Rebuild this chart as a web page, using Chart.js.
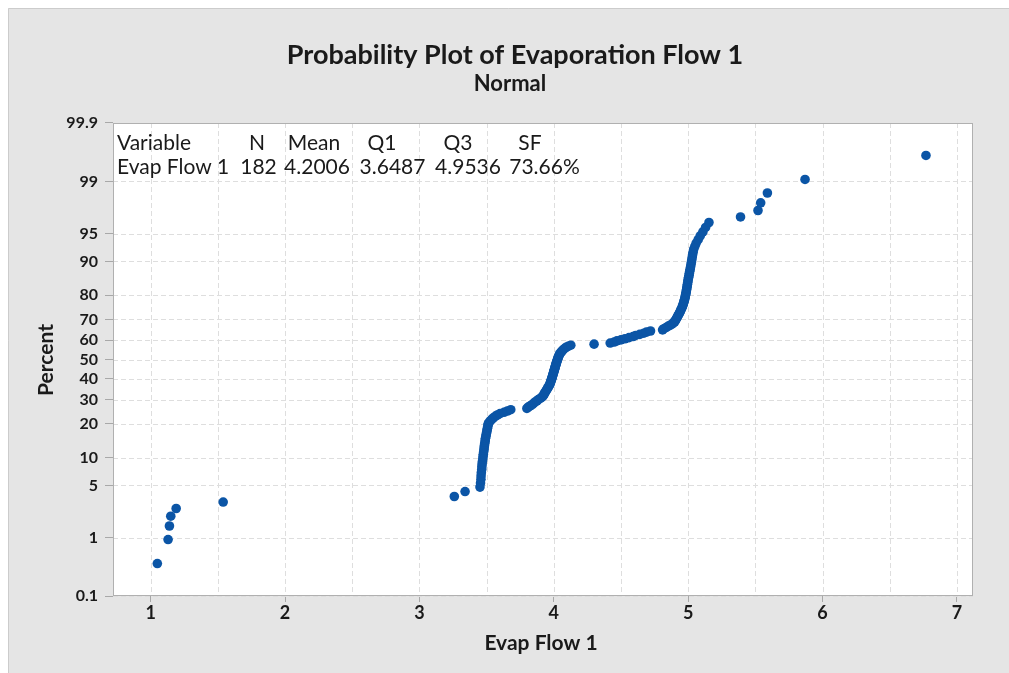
<!DOCTYPE html>
<html>
<head>
<meta charset="utf-8">
<script src="https://cdn.jsdelivr.net/npm/chart.js@4.4.1/dist/chart.umd.min.js"></script>
<style>
  html, body { margin: 0; padding: 0; background: #ffffff; }
  canvas { display: block; }
</style>
</head>
<body>
<canvas id="chart" width="1009" height="673"></canvas>
<script>
// Evaporation flow readings, sorted ascending (N = 182)
const evapFlow = [
  1.05, 1.13, 1.14, 1.15, 1.19, 1.54, 3.26, 3.34,
  3.451, 3.455, 3.458, 3.459, 3.461, 3.464, 3.465, 3.467, 3.469, 3.472,
  3.474, 3.476, 3.478, 3.481, 3.482, 3.484, 3.486, 3.489, 3.490, 3.492,
  3.495, 3.497, 3.500, 3.502, 3.504, 3.507, 3.509, 3.511, 3.513,
  3.52, 3.53, 3.54, 3.55, 3.565, 3.58, 3.60, 3.63, 3.655, 3.68,
  3.80, 3.81, 3.825, 3.84, 3.85, 3.86, 3.875, 3.885, 3.90, 3.91,
  3.92, 3.925, 3.93, 3.935, 3.94, 3.945, 3.95, 3.955, 3.96, 3.965,
  3.97, 3.973, 3.976, 3.978, 3.981, 3.984, 3.986, 3.989, 3.991, 3.994,
  3.996, 3.998, 4.001, 4.003, 4.005, 4.008, 4.010, 4.012, 4.014, 4.017,
  4.019, 4.021, 4.024, 4.027, 4.029, 4.032, 4.035, 4.038, 4.042, 4.046,
  4.052, 4.058, 4.065, 4.072, 4.082, 4.092, 4.107, 4.127,
  4.30,
  4.42, 4.45, 4.47, 4.50, 4.53, 4.56, 4.59, 4.61, 4.64, 4.67, 4.69, 4.72,
  4.81, 4.82, 4.835, 4.85, 4.865, 4.88, 4.89, 4.90, 4.905, 4.91,
  4.915, 4.92, 4.925, 4.93, 4.935, 4.94, 4.944, 4.948, 4.953, 4.957,
  4.961, 4.964, 4.967, 4.970, 4.973, 4.976, 4.978, 4.980, 4.983, 4.985,
  4.987, 4.989, 4.991, 4.993, 4.995, 4.997, 4.999, 5.001, 5.004, 5.007,
  5.009, 5.012, 5.015, 5.018, 5.021, 5.024, 5.027, 5.030, 5.033, 5.037,
  5.041, 5.05, 5.06, 5.075, 5.09, 5.11, 5.13, 5.155,
  5.39, 5.52, 5.54, 5.59, 5.87, 6.77
];

// Probability axis ticks (percent) and their labels
const percentTicks = [0.1, 1, 5, 10, 20, 30, 40, 50, 60, 70, 80, 90, 95, 99, 99.9];
const percentLabels = ['0.1', '1', '5', '10', '20', '30', '40', '50', '60', '70', '80', '90', '95', '99', '99.9'];

// Data axis ticks and grid positions
const xTicks = [1, 2, 3, 4, 5, 6, 7];
const xGrid = [1, 1.5, 2, 2.5, 3, 3.5, 4, 4.5, 5, 5.5, 6, 6.5, 7];

// Summary table
const statHeaders = ['Variable', 'N', 'Mean', 'Q1', 'Q3', 'SF'];
const statValues = ['Evap Flow 1', '182', '4.2006', '3.6487', '4.9536', '73.66%'];

const titleText = 'Probability Plot of Evaporation Flow 1';
const subtitleText = 'Normal';
const xTitle = 'Evap Flow 1';
const yTitle = 'Percent';

// Inverse standard normal CDF (Acklam's rational approximation)
function normInv(p) {
  const a = [-3.969683028665376e+01, 2.209460984245205e+02, -2.759285104469687e+02,
             1.383577518672690e+02, -3.066479806614716e+01, 2.506628277459239e+00];
  const b = [-5.447609879822406e+01, 1.615858368580409e+02, -1.556989798598866e+02,
             6.680131188771972e+01, -1.328068155288572e+01];
  const c = [-7.784894002430293e-03, -3.223964580411365e-01, -2.400758277161838e+00,
             -2.549732539343734e+00, 4.374664141464968e+00, 2.938163982698783e+00];
  const d = [7.784695709041462e-03, 3.224671290700398e-01, 2.445134137142996e+00,
             3.754408661907416e+00];
  const pl = 0.02425, ph = 1 - pl;
  let q, r;
  if (p < pl) {
    q = Math.sqrt(-2 * Math.log(p));
    return (((((c[0]*q+c[1])*q+c[2])*q+c[3])*q+c[4])*q+c[5]) /
           ((((d[0]*q+d[1])*q+d[2])*q+d[3])*q+1);
  }
  if (p <= ph) {
    q = p - 0.5; r = q * q;
    return (((((a[0]*r+a[1])*r+a[2])*r+a[3])*r+a[4])*r+a[5])*q /
           (((((b[0]*r+b[1])*r+b[2])*r+b[3])*r+b[4])*r+1);
  }
  q = Math.sqrt(-2 * Math.log(1 - p));
  return -(((((c[0]*q+c[1])*q+c[2])*q+c[3])*q+c[4])*q+c[5]) /
          ((((d[0]*q+d[1])*q+d[2])*q+d[3])*q+1);
}

// Median-rank plotting positions: (i - 0.3) / (n + 0.4)
const n = evapFlow.length;
const points = evapFlow.map((v, i) => ({ x: v, y: normInv((i + 1 - 0.3) / (n + 0.4)) }));

const zTicks = percentTicks.map(p => normInv(p / 100));
const zMin = normInv(0.001), zMax = normInv(0.999);

const FONT = 'Lato, "Open Sans", sans-serif';
const TEXT = '#1a1a1a';

const decor = {
  id: 'decor',
  beforeDraw(chart) {
    const { ctx, chartArea: a, width, height } = chart;
    ctx.save();
    ctx.fillStyle = '#ffffff';
    ctx.fillRect(0, 0, width, height);
    ctx.fillStyle = '#e5e5e5';
    ctx.fillRect(8, 8, width - 8, height - 8);
    ctx.strokeStyle = '#cccccc';
    ctx.lineWidth = 1;
    ctx.beginPath();
    ctx.moveTo(8.5, height); ctx.lineTo(8.5, 8.5); ctx.lineTo(width, 8.5);
    ctx.stroke();
    ctx.fillStyle = '#ffffff';
    ctx.fillRect(a.left, a.top, a.right - a.left, a.bottom - a.top);
    ctx.restore();
  },
  beforeDatasetsDraw(chart) {
    const { ctx, chartArea: a, scales } = chart;
    ctx.save();
    ctx.strokeStyle = '#dedede';
    ctx.lineWidth = 1;
    ctx.setLineDash([5, 3]);
    xGrid.forEach(v => {
      const px = Math.round(scales.x.getPixelForValue(v)) + 0.5;
      ctx.beginPath(); ctx.moveTo(px, a.top); ctx.lineTo(px, a.bottom); ctx.stroke();
    });
    zTicks.forEach(z => {
      const py = Math.round(scales.y.getPixelForValue(z)) + 0.5;
      ctx.beginPath(); ctx.moveTo(a.left, py); ctx.lineTo(a.right, py); ctx.stroke();
    });
    ctx.setLineDash([]);

    // summary table
    ctx.fillStyle = TEXT;
    ctx.font = '21px ' + FONT;
    ctx.textBaseline = 'alphabetic';
    const cols = [null, 257, 314, 382, 458, 530];
    const vcols = [null, 258.5, 317, 392.5, 468, 544.5];
    ctx.textAlign = 'left';
    ctx.fillText(statHeaders[0], 117, 150);
    ctx.fillText(statValues[0], 117, 174);
    ctx.textAlign = 'center';
    for (let i = 1; i < statHeaders.length; i++) {
      ctx.fillText(statHeaders[i], cols[i], 150);
      ctx.fillText(statValues[i], vcols[i], 174);
    }
    ctx.restore();
  },
  afterDatasetsDraw(chart) {
    const { ctx, chartArea: a } = chart;
    ctx.save();
    ctx.strokeStyle = '#b0b0b0';
    ctx.lineWidth = 1;
    ctx.strokeRect(a.left + 0.5, a.top + 0.5, a.right - a.left - 1, a.bottom - a.top - 1);

    ctx.fillStyle = TEXT;
    ctx.textAlign = 'center';
    ctx.textBaseline = 'alphabetic';
    ctx.font = 'bold 27px ' + FONT;
    ctx.fillText(titleText, 515, 64);
    ctx.font = 'bold 22px ' + FONT;
    ctx.fillText(subtitleText, 510, 91);

    ctx.font = 'bold 21px ' + FONT;
    ctx.textBaseline = 'middle';
    ctx.fillText(xTitle, 541, 643);
    ctx.translate(46, 360);
    ctx.rotate(-Math.PI / 2);
    ctx.fillText(yTitle, 0, 0);
    ctx.restore();
  }
};

new Chart(document.getElementById('chart'), {
  type: 'scatter',
  data: {
    datasets: [{
      data: points,
      backgroundColor: '#0b55a6',
      borderColor: '#0b55a6',
      borderWidth: 0,
      pointRadius: 4.8,
      pointHoverRadius: 4.8
    }]
  },
  options: {
    responsive: false,
    animation: false,
    devicePixelRatio: 1,
    layout: { padding: { left: 53, right: 36, top: 123, bottom: 47 } },
    plugins: { legend: { display: false }, tooltip: { enabled: false }, title: { display: false } },
    scales: {
      x: {
        type: 'linear',
        min: 0.72,
        max: 7.12,
        afterBuildTicks: s => { s.ticks = xTicks.map(v => ({ value: v })); },
        afterFit: s => { s.height = 30; },
        border: { display: false },
        grid: { drawOnChartArea: false, drawTicks: true, tickLength: 6, tickColor: '#a8a8a8' },
        ticks: {
          color: TEXT,
          font: { family: FONT, size: 18, weight: 'bold' },
          padding: 0,
          maxRotation: 0,
          callback: v => String(v)
        }
      },
      y: {
        type: 'linear',
        min: zMin,
        max: zMax,
        afterBuildTicks: s => { s.ticks = zTicks.map(v => ({ value: v })); },
        afterFit: s => { s.width = 60; },
        border: { display: false },
        grid: { drawOnChartArea: false, drawTicks: true, tickLength: 8, tickColor: '#a8a8a8' },
        ticks: {
          color: TEXT,
          font: { family: FONT, size: 16, weight: 'bold' },
          padding: 7,
          callback: (v, i) => percentLabels[i]
        }
      }
    }
  },
  plugins: [decor]
});
</script>
</body>
</html>
